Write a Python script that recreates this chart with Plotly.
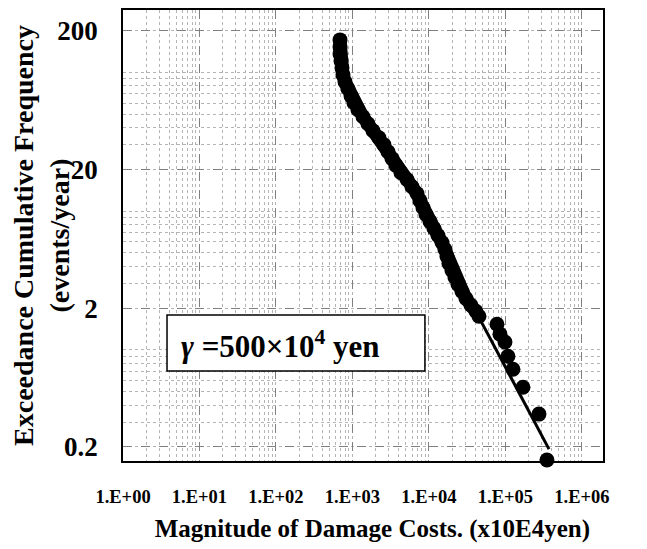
import plotly.graph_objects as go

# ---- data (x in 10^4 yen, y in events/year) ----
# dense upper part of the curve (overlapping markers form a thick band)
curve_cost = [
    687, 687, 687, 708, 729, 751, 798, 874, 956, 1046, 1180, 1372, 1594, 1854,
    2221, 2581, 2912, 3284, 3704, 4305, 5157, 5995, 6967, 7627, 8348, 9138,
    10306, 11627, 13115, 14791, 16192, 17193, 18257, 19981, 21878, 23940,
    27002, 30456, 35400, 41154, 45040,
]
curve_freq = [
    171.2, 152.5, 135.8, 120.9, 107.7, 95.9, 85.4, 76.1, 67.7, 60.3, 53.7, 47.9,
    42.6, 37.95, 33.8, 30.1, 26.8, 23.9, 21.3, 18.9, 16.9, 15.0, 13.4, 11.9,
    10.6, 9.45, 8.41, 7.49, 6.67, 5.94, 5.29, 4.71, 4.20, 3.74, 3.33, 2.97,
    2.64, 2.35, 2.10, 1.90, 1.75,
]
# separate large-loss events in the tail
tail_cost = [77440, 84750, 98520, 107800, 125300, 169400, 274100, 348700]
tail_freq = [1.53, 1.30, 1.14, 0.90, 0.726, 0.539, 0.345, 0.161]
# fitted line
fit_cost = [46450, 370600]
fit_freq = [1.66, 0.193]

x_tickvals = [1, 10, 100, 1000, 10000, 100000, 1000000]
x_ticktext = ["1.E+00", "1.E+01", "1.E+02", "1.E+03", "1.E+04", "1.E+05", "1.E+06"]
y_tickvals = [0.2, 2, 20, 200]
y_ticktext = ["0.2", "2", "20", "200"]

FONT = "Liberation Serif, Times New Roman, serif"

fig = go.Figure()
fig.add_trace(go.Scatter(
    x=fit_cost, y=fit_freq, mode="lines",
    line=dict(color="black", width=3), showlegend=False, hoverinfo="skip",
))
fig.add_trace(go.Scatter(
    x=curve_cost, y=curve_freq, mode="lines+markers",
    line=dict(color="black", width=13),
    marker=dict(color="black", size=15, line=dict(width=0)),
    showlegend=False, cliponaxis=False,
))
fig.add_trace(go.Scatter(
    x=tail_cost, y=tail_freq, mode="markers",
    marker=dict(color="black", size=15, line=dict(width=0)),
    showlegend=False, cliponaxis=False,
))

fig.add_shape(type="rect", xref="paper", yref="paper",
              x0=0.0917, x1=0.629, y0=0.1996, y1=0.3237,
              line=dict(color="black", width=1.5), fillcolor="white", layer="above")
fig.add_annotation(xref="paper", yref="paper", x=0.117, y=0.258,
                   xanchor="left", yanchor="middle", showarrow=False,
                   text="<i>γ</i> =500×10<sup>4</sup> yen",
                   font=dict(family=FONT, size=31, color="black", weight="bold"))

# page body has an 8px default margin, so the figure is sized/offset for it
fig.update_layout(
    width=639, height=541, autosize=False,
    margin=dict(l=115, r=44, t=2, b=88, autoexpand=False),
    paper_bgcolor="white", plot_bgcolor="white",
    font=dict(family=FONT, color="black"),
)
fig.update_xaxes(
    type="log", range=[0, 6.275], automargin=False,
    tickmode="array", tickvals=x_tickvals, ticktext=x_ticktext,
    tickfont=dict(family=FONT, size=18.5, weight="bold"),
    ticks="", ticklabelstandoff=18,
    showline=True, linecolor="black", linewidth=1.5, mirror=True,
    showgrid=True, gridcolor="#808080", gridwidth=1, griddash="dash",
    minor=dict(showgrid=True, dtick="D1", gridcolor="#b4b4b4", griddash="dot", gridwidth=1),
    zeroline=False,
    title=dict(text="&nbsp;&nbsp;&nbsp;Magnitude of Damage Costs. (x10E4yen)",
               font=dict(family=FONT, size=25, weight="bold"), standoff=14),
)
fig.update_yaxes(
    type="log", range=[-0.80, 2.449], automargin=False,
    tickmode="array", tickvals=y_tickvals, ticktext=y_ticktext,
    tickfont=dict(family=FONT, size=27, weight="bold"),
    ticks="", ticklabelstandoff=18,
    showline=True, linecolor="black", linewidth=1.5, mirror=True,
    showgrid=True, gridcolor="#808080", gridwidth=1, griddash="dash",
    minor=dict(showgrid=True, dtick="D1", gridcolor="#b4b4b4", griddash="dot", gridwidth=1),
    zeroline=False,
    title=dict(text="Exceedance Cumulative Frequency<br>(events/year)",
               font=dict(family=FONT, size=28, weight="bold"), standoff=0),
)

fig.write_html("out.html")
